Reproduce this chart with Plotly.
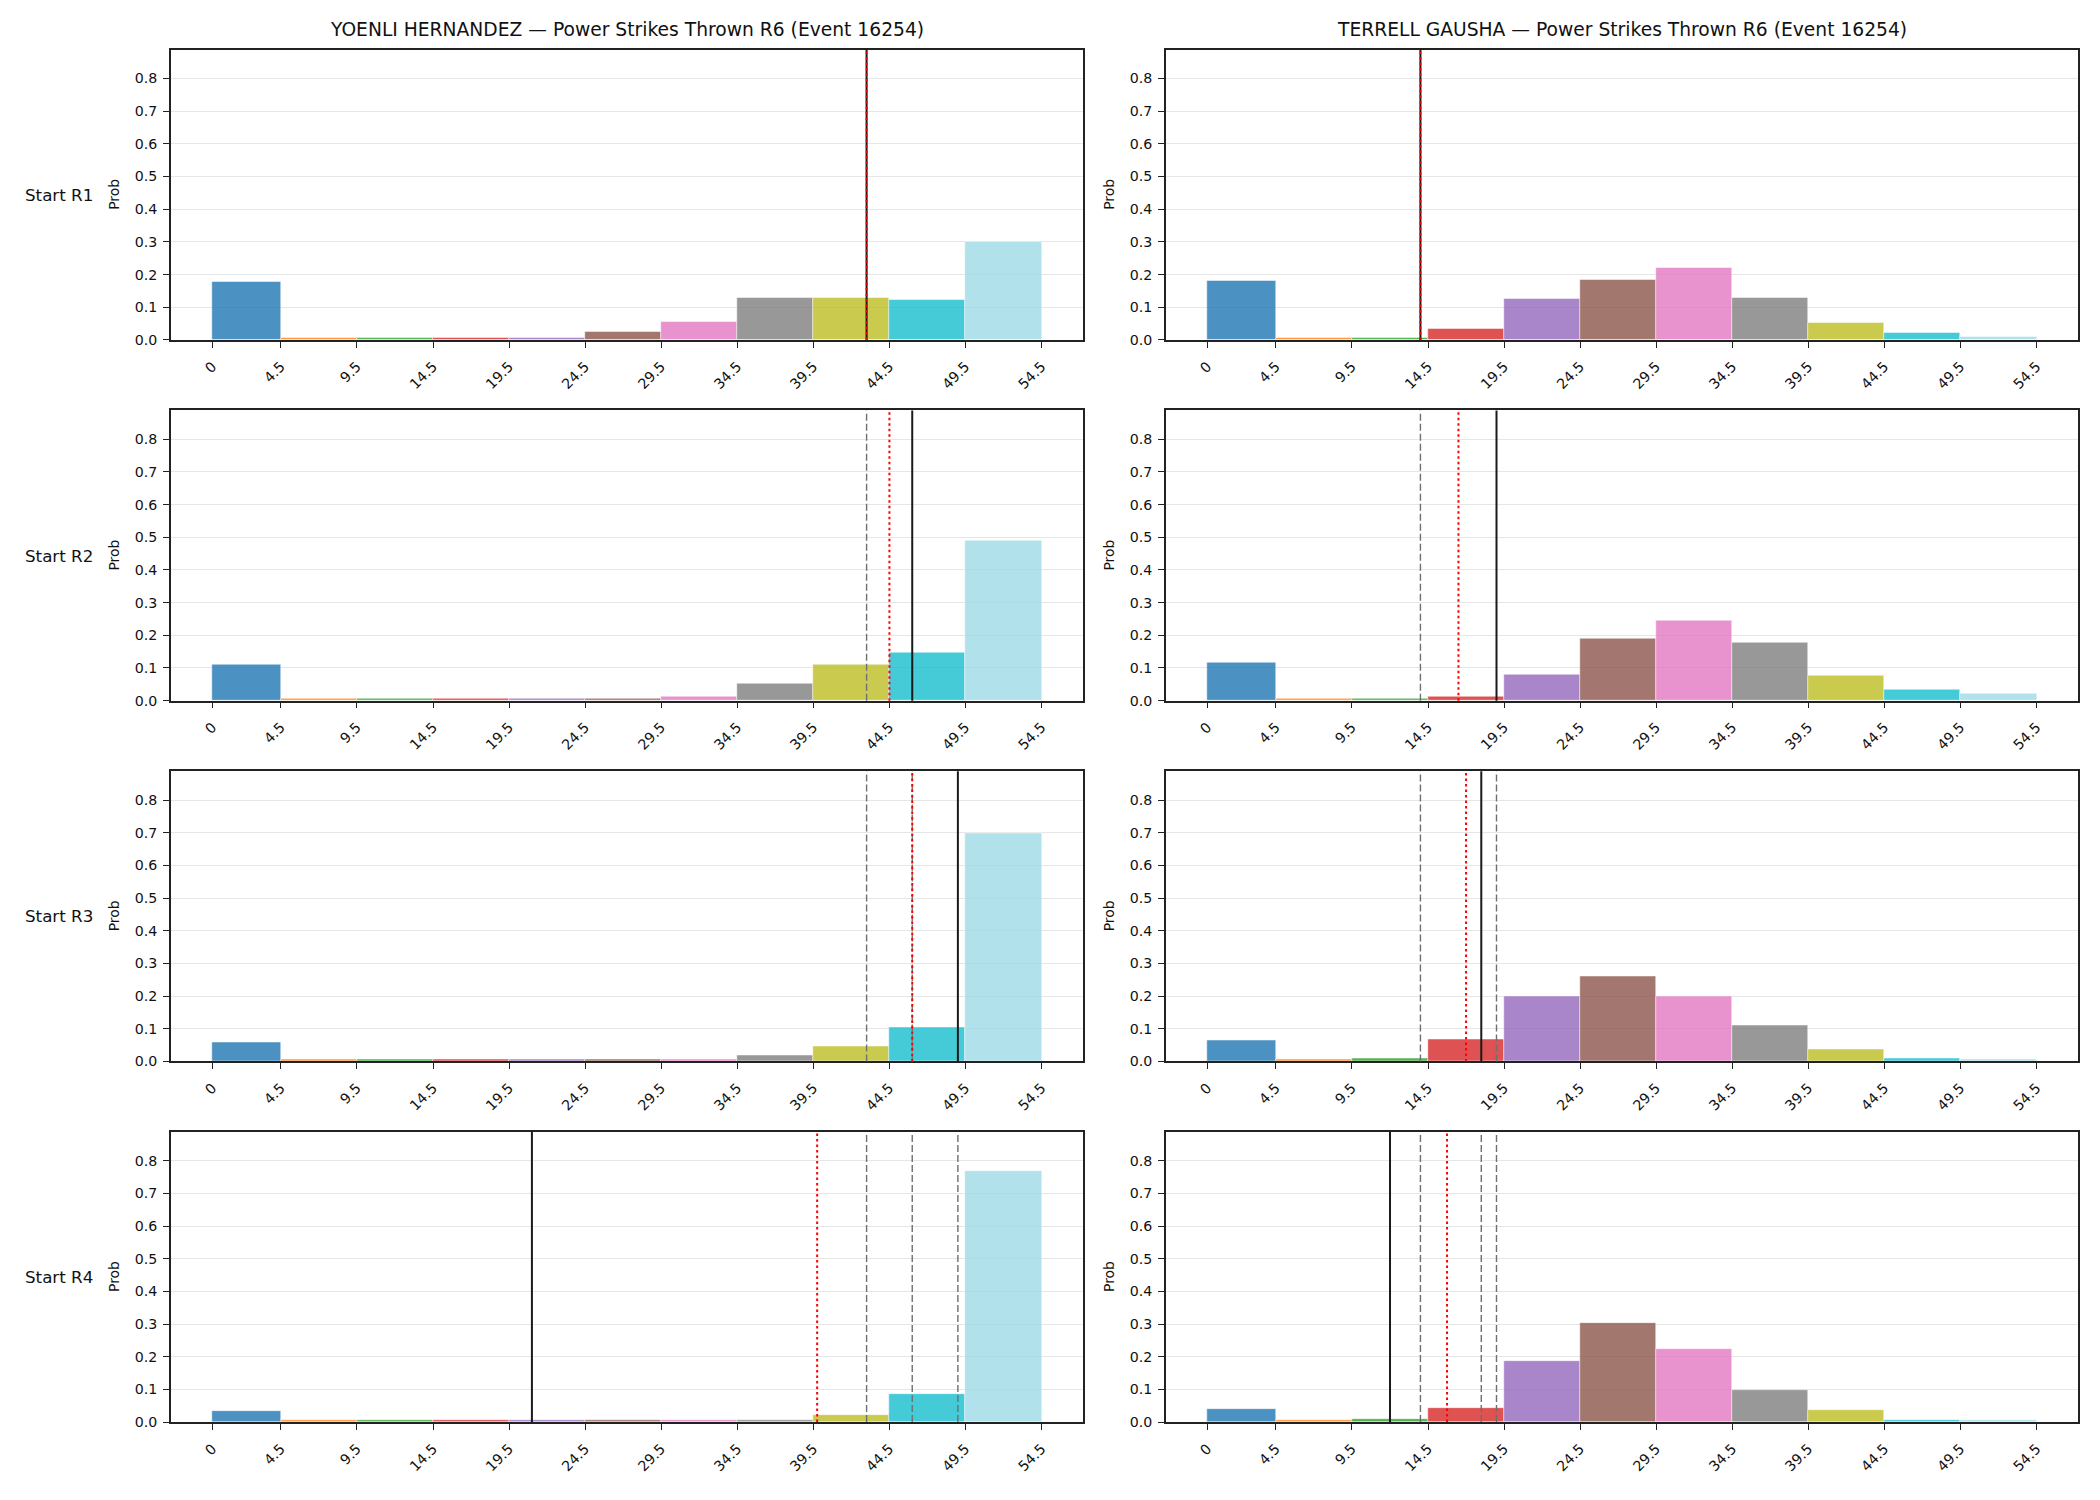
import plotly.graph_objects as go
from plotly.subplots import make_subplots

W, H = 2100, 1500

# ---- data ----
EDGES = [0, 4.5, 9.5, 14.5, 19.5, 24.5, 29.5, 34.5, 39.5, 44.5, 49.5, 54.5]
TICK_LABELS = ["0", "4.5", "9.5", "14.5", "19.5", "24.5", "29.5", "34.5", "39.5", "44.5", "49.5", "54.5"]
BIN_COLORS = ["#1f77b4", "#ff7f0e", "#2ca02c", "#d62728", "#9467bd", "#8c564b",
              "#e377c2", "#7f7f7f", "#bcbd22", "#17becf", "#9edae5"]
ROW_LABELS = ["Start R1", "Start R2", "Start R3", "Start R4"]
FIGHTERS = ["YOENLI HERNANDEZ", "TERRELL GAUSHA"]
TITLE_SUFFIX = " \u2014 Power Strikes Thrown R6 (Event 16254)"

HERNANDEZ_R1 = [0.177, 0.007, 0.007, 0.007, 0.007, 0.024, 0.055, 0.128, 0.130, 0.124, 0.300]
HERNANDEZ_R2 = [0.112, 0.007, 0.007, 0.007, 0.007, 0.007, 0.012, 0.052, 0.112, 0.146, 0.491]
HERNANDEZ_R3 = [0.058, 0.006, 0.006, 0.006, 0.006, 0.006, 0.006, 0.018, 0.045, 0.106, 0.698]
HERNANDEZ_R4 = [0.034, 0.006, 0.006, 0.006, 0.006, 0.006, 0.006, 0.006, 0.021, 0.085, 0.770]

GAUSHA_R1 = [0.180, 0.007, 0.007, 0.034, 0.125, 0.185, 0.222, 0.128, 0.052, 0.021, 0.009]
GAUSHA_R2 = [0.116, 0.007, 0.007, 0.013, 0.080, 0.190, 0.245, 0.177, 0.076, 0.034, 0.021]
GAUSHA_R3 = [0.064, 0.007, 0.010, 0.067, 0.199, 0.262, 0.199, 0.110, 0.037, 0.010, 0.006]
GAUSHA_R4 = [0.040, 0.007, 0.010, 0.043, 0.187, 0.304, 0.223, 0.098, 0.037, 0.007, 0.006]

# observed value per round (black solid), running mean (red dotted)
HERNANDEZ_ACTUAL = [43, 46, 49, 21]
HERNANDEZ_MEAN = [43, 44.5, 46, 39.75]
GAUSHA_ACTUAL = [14, 19, 18, 12]
GAUSHA_MEAN = [14, 16.5, 17, 15.75]

PROBS = [[HERNANDEZ_R1, GAUSHA_R1], [HERNANDEZ_R2, GAUSHA_R2],
         [HERNANDEZ_R3, GAUSHA_R3], [HERNANDEZ_R4, GAUSHA_R4]]
ACTUAL = [HERNANDEZ_ACTUAL, GAUSHA_ACTUAL]
MEAN = [HERNANDEZ_MEAN, GAUSHA_MEAN]

Y_MAX = 0.888
X_RANGE = [-2.725, 57.225]

# ---- layout geometry (pixels) ----
COL_X = [(171, 1083), (1166, 2078)]
ROW_Y = [(50, 341.7), (412.7, 704.4), (775.4, 1067.1), (1138, 1429.7)]

FONT = "DejaVu Sans"

fig = make_subplots(rows=4, cols=2)

centers = [(EDGES[i] + EDGES[i + 1]) / 2 for i in range(len(EDGES) - 1)]
widths = [EDGES[i + 1] - EDGES[i] for i in range(len(EDGES) - 1)]

for r in range(4):
    for c in range(2):
        fig.add_trace(go.Bar(
            x=centers, y=PROBS[r][c], width=widths,
            marker=dict(color=BIN_COLORS, opacity=0.8,
                        line=dict(color="white", width=0.5)),
            showlegend=False, hoverinfo="x+y"),
            row=r + 1, col=c + 1)
        # black solid: this round's value
        fig.add_vline(x=ACTUAL[c][r], line=dict(color="#1a1a1a", width=2),
                      row=r + 1, col=c + 1)
        # gray dashed: previous rounds
        for p in range(r):
            fig.add_vline(x=ACTUAL[c][p],
                          line=dict(color="#6f6f6f", width=1.4, dash="7px,3px"),
                          row=r + 1, col=c + 1)
        # red dotted: running mean
        fig.add_vline(x=MEAN[c][r],
                      line=dict(color="#ff0000", width=2, dash="2.5px,3px"),
                      row=r + 1, col=c + 1)

        x0, x1 = COL_X[c]
        ytop, ybot = ROW_Y[r]
        fig.update_xaxes(
            domain=[x0 / W, x1 / W], range=X_RANGE,
            tickmode="array", tickvals=EDGES, ticktext=TICK_LABELS,
            tickangle=-45, ticks="outside", ticklen=6, tickwidth=1.3,
            tickcolor="#222", showline=True, linecolor="#222", linewidth=1.6,
            mirror=True, showgrid=False, zeroline=False, ticklabelstandoff=5,
            tickfont=dict(family=FONT, size=14.2, color="#111"),
            row=r + 1, col=c + 1)
        fig.update_yaxes(
            domain=[1 - ybot / H, 1 - ytop / H], range=[0, Y_MAX],
            tickmode="array", tickvals=[0, 0.1, 0.2, 0.3, 0.4, 0.5, 0.6, 0.7, 0.8],
            ticktext=["0.0", "0.1", "0.2", "0.3", "0.4", "0.5", "0.6", "0.7", "0.8"],
            ticks="outside", ticklen=6, tickwidth=1.3, tickcolor="#222",
            showline=True, linecolor="#222", linewidth=1.6, mirror=True,
            showgrid=True, gridcolor="#e6e6e6", gridwidth=1, zeroline=False,
            ticklabelstandoff=3,
            tickfont=dict(family=FONT, size=14.2, color="#111"),
            row=r + 1, col=c + 1)

annotations = []
for c in range(2):
    x0, x1 = COL_X[c]
    annotations.append(dict(
        text=FIGHTERS[c] + TITLE_SUFFIX, xref="paper", yref="paper",
        x=(x0 + x1) / 2 / W, y=1 - 30 / H, xanchor="center", yanchor="middle",
        showarrow=False, font=dict(family=FONT, size=18.7, color="#111")))
for r in range(4):
    ytop, ybot = ROW_Y[r]
    ymid = 1 - (ytop + ybot) / 2 / H
    annotations.append(dict(
        text=ROW_LABELS[r], xref="paper", yref="paper",
        x=23 / W, y=ymid, xanchor="left", yanchor="middle",
        showarrow=False, font=dict(family=FONT, size=16.7, color="#111")))
    for c in range(2):
        x0, _ = COL_X[c]
        annotations.append(dict(
            text="Prob", xref="paper", yref="paper",
            x=(x0 - 57) / W, y=ymid, xanchor="center", yanchor="middle",
            textangle=-90, showarrow=False,
            font=dict(family=FONT, size=13.9, color="#111")))

fig.update_layout(
    width=W, height=H, margin=dict(l=0, r=0, t=0, b=0),
    paper_bgcolor="white", plot_bgcolor="white",
    bargap=0, annotations=annotations, showlegend=False,
    font=dict(family=FONT, color="#111"))

fig.write_html("out.html")
